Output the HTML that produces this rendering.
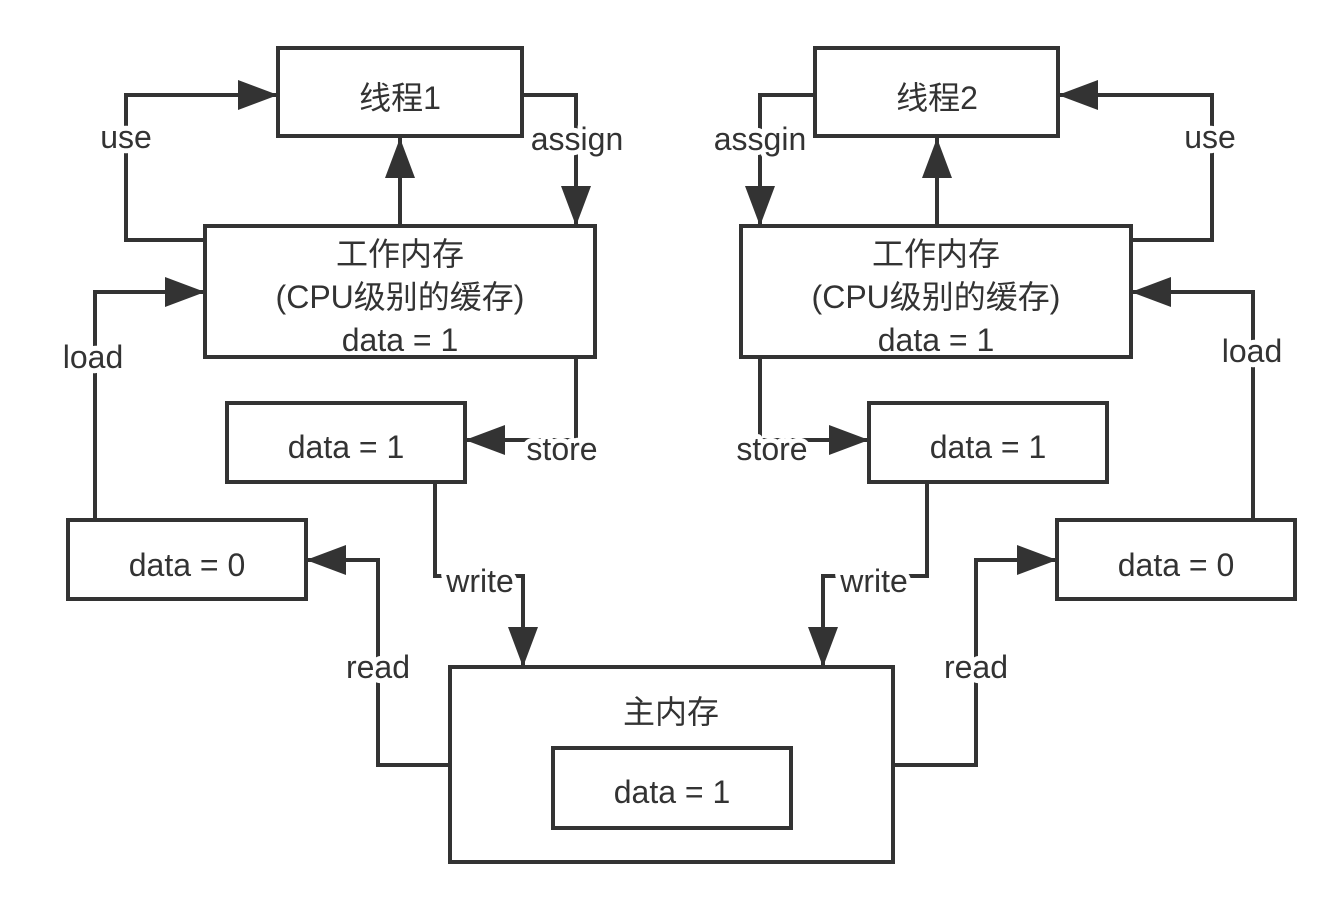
<!DOCTYPE html>
<html><head><meta charset="utf-8"><style>
html,body{margin:0;padding:0;background:#fff;}
svg{display:block;}
text{font-family:"Liberation Sans","Noto Sans CJK SC",sans-serif;font-size:32px;fill:#333;text-anchor:middle;dominant-baseline:central;}
.l{paint-order:stroke;stroke:#fff;stroke-width:10px;stroke-linejoin:round;}
</style></head><body>
<svg width="1328" height="900" viewBox="0 0 1328 900">
<defs><marker id="a" markerWidth="10" markerHeight="10" refX="9" refY="5" orient="auto" markerUnits="userSpaceOnUse" viewBox="0 0 10 10"><path d="M0,0 L10,5 L0,10 z" fill="#333"/></marker>
<marker id="b" markerWidth="40" markerHeight="30" refX="40" refY="15" orient="auto" markerUnits="userSpaceOnUse"><path d="M0,0 L40,15 L0,30 z" fill="#333"/></marker></defs>
<g fill="none" stroke="#333" stroke-width="4">
<!-- left -->
<polyline points="205,240 126,240 126,95 278,95" marker-end="url(#b)"/>
<line x1="400" y1="226" x2="400" y2="138" marker-end="url(#b)"/>
<polyline points="522,95 576,95 576,226" marker-end="url(#b)"/>
<polyline points="95,520 95,292 205,292" marker-end="url(#b)"/>
<polyline points="576,357 576,440 465,440" marker-end="url(#b)"/>
<polyline points="435,482 435,576 523,576 523,667" marker-end="url(#b)"/>
<polyline points="450,765 378,765 378,560 306,560" marker-end="url(#b)"/>
<!-- right -->
<polyline points="815,95 760,95 760,226" marker-end="url(#b)"/>
<line x1="937" y1="226" x2="937" y2="138" marker-end="url(#b)"/>
<polyline points="1131,240 1212,240 1212,95 1058,95" marker-end="url(#b)"/>
<polyline points="1253,520 1253,292 1131,292" marker-end="url(#b)"/>
<polyline points="760,357 760,440 869,440" marker-end="url(#b)"/>
<polyline points="927,482 927,576 823,576 823,667" marker-end="url(#b)"/>
<polyline points="893,765 976,765 976,560 1057,560" marker-end="url(#b)"/>
</g>
<g fill="#fff" stroke="#333" stroke-width="4">
<rect x="278" y="48" width="244" height="88"/>
<rect x="815" y="48" width="243" height="88"/>
<rect x="205" y="226" width="390" height="131"/>
<rect x="741" y="226" width="390" height="131"/>
<rect x="227" y="403" width="238" height="79"/>
<rect x="869" y="403" width="238" height="79"/>
<rect x="68" y="520" width="238" height="79"/>
<rect x="1057" y="520" width="238" height="79"/>
<rect x="450" y="667" width="443" height="195"/>
<rect x="553" y="748" width="238" height="80"/>
</g>
<text x="400" y="98">线程1</text>
<text x="937" y="98">线程2</text>
<text x="400" y="254">工作内存</text><text x="400" y="297">(CPU级别的缓存)</text><text x="400" y="340">data = 1</text>
<text x="936" y="254">工作内存</text><text x="936" y="297">(CPU级别的缓存)</text><text x="936" y="340">data = 1</text>
<text x="346" y="447">data = 1</text>
<text x="988" y="447">data = 1</text>
<text x="187" y="565">data = 0</text>
<text x="1176" y="565">data = 0</text>
<text x="671" y="712">主内存</text>
<text x="672" y="792">data = 1</text>
<text class="l" x="126" y="137">use</text>
<text class="l" x="577" y="139">assign</text>
<text class="l" x="93" y="357">load</text>
<text class="l" x="562" y="449">store</text>
<text class="l" x="480" y="581">write</text>
<text class="l" x="378" y="667">read</text>
<text class="l" x="760" y="139">assgin</text>
<text class="l" x="1210" y="137">use</text>
<text class="l" x="1252" y="351">load</text>
<text class="l" x="772" y="449">store</text>
<text class="l" x="874" y="581">write</text>
<text class="l" x="976" y="667">read</text>
</svg>
</body></html>
